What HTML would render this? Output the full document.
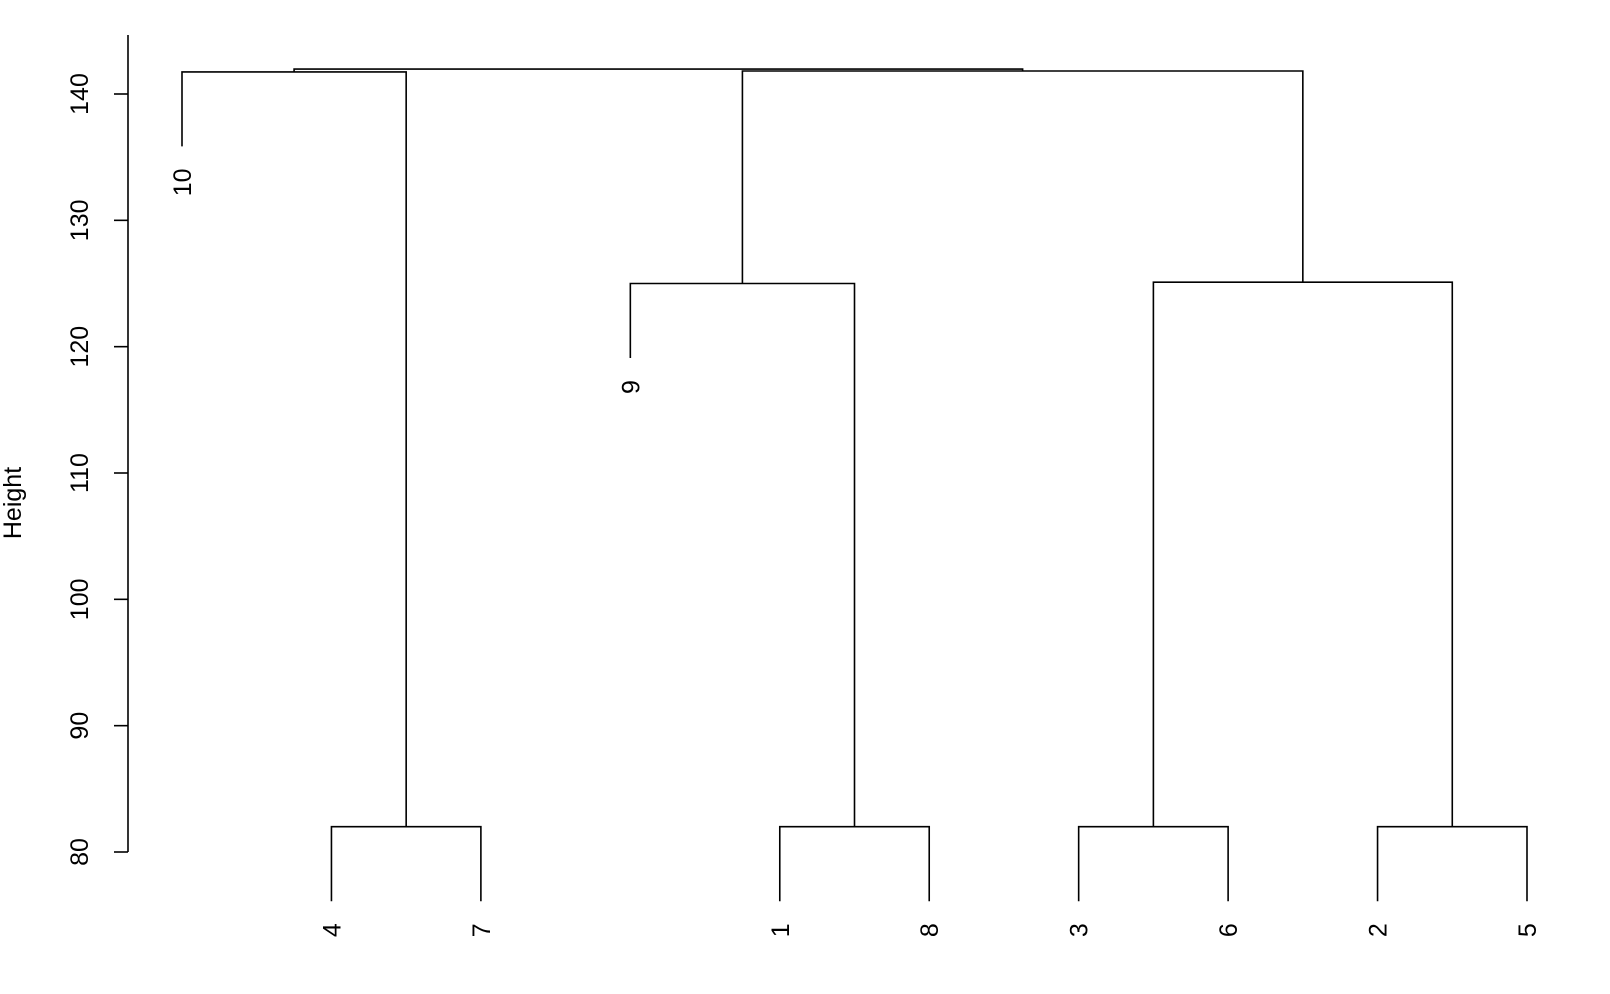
<!DOCTYPE html>
<html><head><meta charset="utf-8"><style>
html,body{margin:0;padding:0;background:#fff;}
svg{display:block;font-family:"Liberation Sans",sans-serif;}
</style></head><body>
<svg id="chart" width="1610" height="994" viewBox="0 0 1610 994">
<g id="axis"></g>
<g id="tree"></g>
<g id="labels"></g>
<text x="21" y="503" font-size="25" text-anchor="middle" transform="rotate(-90 21 503)">Height</text>
</svg>
<script>
// leaf order and labels
const leafLabels = ["10","4","7","9","1","8","3","6","2","5"];
// merges: [left child, right child, height]; negative = leaf position (1-based), positive = merge number
const mergeLeft  = [-2, -5, -7, -9, -4, 3, -1, 5, 7];
const mergeRight = [-3, -6, -8, -10, 2, 4, 1, 6, 8];
const mergeHeight = [82, 82, 82, 82, 125.0, 125.1, 141.75, 141.82, 141.97];
const yTicks = [80, 90, 100, 110, 120, 130, 140];
const hang = 5.9;

const NS = "http://www.w3.org/2000/svg";
const yScale = h => 852 - (h - 80) * (758 / 60);
const xScale = i => 182 + i * (1527 - 182) / 9;

function mk(tag, attrs, parent) {
  const e = document.createElementNS(NS, tag);
  for (const k in attrs) e.setAttribute(k, attrs[k]);
  parent.appendChild(e);
  return e;
}
const axis = document.getElementById("axis");
const tree = document.getElementById("tree");
const labels = document.getElementById("labels");
const stroke = {stroke: "#000", "stroke-width": 1.6, fill: "none"};

const al = mk("line", Object.assign({x1: 128, x2: 128, y1: 35, y2: yScale(yTicks[0])}, stroke), axis);


yTicks.forEach(t => {
  const y = yScale(t);
  const tk = mk("line", Object.assign({x1: 114, x2: 128, y1: y, y2: y}, stroke), axis);
  
  
  const tx = mk("text", {x: 88, y: y, "font-size": 25, "text-anchor": "middle", transform: `rotate(-90 88 ${y})`}, axis);
  tx.textContent = t;
  
  
});

const pos = [], ht = [];
function nodeX(c) { return c < 0 ? xScale(-c - 1) : pos[c - 1]; }
for (let i = 0; i < mergeHeight.length; i++) {
  const a = mergeLeft[i], b = mergeRight[i], h = mergeHeight[i];
  const xa = nodeX(a), xb = nodeX(b);
  const ya = a < 0 ? yScale(h - hang) : yScale(ht[a - 1]);
  const yb = b < 0 ? yScale(h - hang) : yScale(ht[b - 1]);
  const yh = yScale(h);
  const p = mk("path", Object.assign({d: `M${xa},${ya}V${yh}H${xb}V${yb}`}, stroke), tree);
  
  
  pos.push((xa + xb) / 2); ht.push(h);
  [a, b].forEach(c => {
    if (c < 0) {
      const x = xScale(-c - 1), y = yScale(h - hang) + 22;
      const t = mk("text", {x: x + 9, y: y, "font-size": 25, "text-anchor": "end", transform: `rotate(-90 ${x + 9} ${y})`}, labels);
      t.textContent = leafLabels[-c - 1];
      
      
    }
  });
}
</script>
</body></html>
